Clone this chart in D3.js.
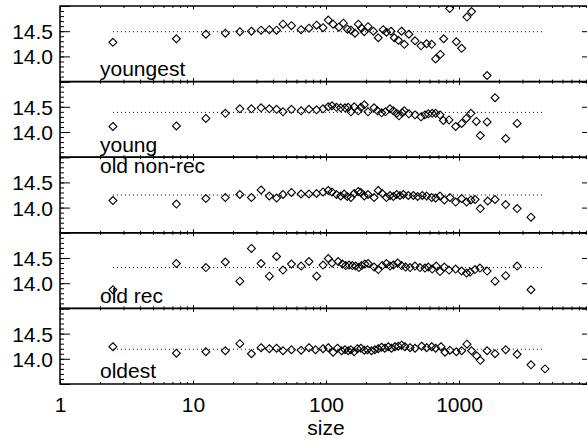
<!DOCTYPE html>
<html>
<head>
<meta charset="utf-8">
<script src="https://cdn.jsdelivr.net/npm/d3@7"></script>
<style>
  body { margin: 0; background: #fff; }
  text { font-family: "Liberation Sans", Arial, Helvetica, sans-serif; font-size: 21px; fill: #000; }
</style>
</head>
<body>
<svg id="chart"></svg>
<script>
// panel names, top to bottom
var panelNames = ["youngest", "young", "old non-rec", "old rec", "oldest"];

// level of the dotted reference line in each panel
var refLevels = [14.49, 14.39, 14.25, 14.31, 14.19];
var refRange = [2.5, 4300];

var yLabels = [14.0, 14.5];
var xLabels = [1, 10, 100, 1000];

// [size, value]
var youngest = [[2.5,14.28],[7.5,14.35],[12.5,14.44],[17.5,14.46],[22.5,14.49],[27.5,14.50],[32.5,14.52],[37.5,14.53],[42.5,14.52],[47.5,14.64],[55,14.61],[65,14.53],[74.5,14.56],[85,14.62],[95,14.57],[104,14.72],[113,14.64],[125,14.58],[135,14.66],[145,14.54],[154,14.52],[165,14.46],[175,14.64],[185,14.56],[194,14.49],[207,14.59],[227,14.50],[247,14.37],[269,14.53],[285,14.48],[308,14.50],[326,14.37],[350,14.32],[370,14.50],[388,14.24],[420,14.44],[467,14.31],[518,14.21],[571,14.25],[623,14.24],[667,13.95],[724,14.04],[767,14.35],[851,14.95],[955,14.29],[1047,14.16],[1148,14.78],[1243,14.89],[1627,13.62]];

var young = [[2.5,14.11],[7.5,14.12],[12.5,14.27],[17.5,14.37],[22.5,14.46],[27.5,14.46],[32.5,14.48],[37.5,14.46],[42.5,14.45],[47.5,14.40],[55,14.45],[65,14.42],[74.5,14.45],[85,14.44],[95,14.46],[104,14.50],[111,14.52],[120,14.49],[129,14.48],[139,14.48],[147,14.49],[154,14.40],[163,14.50],[175,14.42],[183,14.49],[194,14.54],[207,14.40],[230,14.48],[244,14.42],[262,14.38],[280,14.40],[303,14.46],[321,14.42],[340,14.37],[354,14.32],[374,14.38],[388,14.42],[420,14.36],[467,14.34],[518,14.30],[555,14.34],[588,14.36],[629,14.37],[667,14.37],[720,14.34],[763,14.23],[841,14.24],[944,14.11],[1047,14.17],[1135,14.27],[1229,14.37],[1350,14.21],[1446,13.93],[1627,14.20],[1866,14.68],[2244,13.87],[2736,14.17]];

var oldNonRec = [[2.5,14.14],[7.5,14.07],[12.5,14.18],[17.5,14.20],[22.5,14.26],[27.5,14.20],[32.5,14.35],[37.5,14.23],[42.5,14.19],[47.5,14.26],[55,14.30],[65,14.27],[74.5,14.27],[85,14.28],[95,14.31],[104,14.34],[111,14.31],[120,14.26],[129,14.23],[137,14.27],[144.5,14.22],[154,14.20],[163,14.28],[175,14.32],[183,14.30],[194,14.23],[207,14.26],[230,14.20],[247,14.34],[265,14.28],[285,14.20],[303,14.24],[321,14.22],[340,14.26],[360,14.24],[382,14.26],[416,14.24],[454,14.24],[489,14.22],[530,14.24],[571,14.23],[623,14.20],[667,14.19],[720,14.23],[776,14.15],[855,14.20],[944,14.11],[1047,14.18],[1141,14.11],[1229,14.15],[1322,14.16],[1446,13.98],[1645,14.13],[1866,14.16],[2244,14.06],[2736,13.98],[3477,13.81]];

var oldRec = [[2.5,13.87],[7.5,14.39],[12.5,14.31],[17.5,14.42],[22.5,14.04],[27.5,14.69],[32.5,14.39],[37.5,14.14],[42.5,14.53],[47.5,14.26],[55,14.38],[65,14.34],[74.5,14.43],[85,14.14],[95,14.36],[104,14.49],[111,14.40],[123.5,14.43],[133,14.38],[140.6,14.35],[149,14.36],[158,14.35],[167,14.34],[176.7,14.31],[185,14.35],[196,14.38],[207.5,14.39],[230,14.32],[247,14.27],[265,14.35],[285,14.39],[303,14.34],[321,14.36],[346,14.40],[370,14.35],[397,14.32],[428.5,14.31],[467,14.34],[509,14.31],[555,14.30],[588,14.32],[629,14.28],[674,14.34],[720,14.23],[776,14.32],[841,14.26],[944,14.28],[1047,14.24],[1141,14.20],[1213,14.22],[1319,14.27],[1437,14.30],[1627,14.24],[1866,14.04],[2244,14.15],[2736,14.34],[3477,13.87]];

var oldest = [[2.5,14.24],[7.5,14.11],[12.5,14.14],[17.5,14.16],[22.5,14.30],[27.5,14.10],[32.5,14.22],[37.5,14.20],[42.5,14.21],[47.5,14.16],[55,14.18],[65,14.17],[74.5,14.22],[83.4,14.18],[95,14.20],[104,14.22],[113,14.13],[122,14.21],[131,14.16],[139,14.18],[147,14.16],[154,14.18],[163,14.14],[172,14.20],[183,14.21],[194,14.17],[205,14.18],[220,14.16],[233,14.18],[247,14.20],[262,14.23],[277,14.21],[294,14.24],[311,14.21],[330,14.24],[350,14.25],[370,14.27],[392,14.24],[428.5,14.22],[467,14.21],[524,14.25],[571,14.22],[623,14.24],[667,14.21],[732,14.24],[785,14.13],[855,14.17],[955,14.14],[1047,14.16],[1148,14.29],[1243,14.16],[1358,14.06],[1446,13.97],[1627,14.16],[1866,14.10],[2244,14.18],[2736,14.09],[3477,13.88],[4433,13.80]];

var series = [youngest, young, oldNonRec, oldRec, oldest];

var width = 587,
    height = 440,
    plotLeft = 60,
    plotRight = 592,
    plotTop = 6,
    plotBottom = 384,
    ph = (plotBottom - plotTop) / panelNames.length;

var svg = d3.select("#chart")
  .attr("width", width)
  .attr("height", height);

svg.append("rect")
  .attr("width", width)
  .attr("height", height)
  .attr("fill", "#fff");

var x = d3.scaleLog()
  .domain([1, 10000])
  .range([plotLeft, plotRight]);

// minor/major ticks on the log axis
var xMajor = [1, 10, 100, 1000, 10000];
var xMinor = [];
xMajor.slice(0, -1).forEach(function(d) {
  for (var k = 2; k <= 9; k++) xMinor.push(d * k);
});
var yMajor = [13.5, 14.0, 14.5, 15.0];
var yMinor = d3.range(135, 151).map(function(d) { return d / 10; });

var diamond = d3.symbol().type(d3.symbolDiamond2).size(40);

function clean(g) {
  g.select(".domain").remove();
  g.selectAll("line").attr("stroke", "#000").attr("stroke-width", 1);
}

series.forEach(function(data, i) {
  var y0 = plotTop + i * ph;
  var y = d3.scaleLinear()
    .domain([13.5, 15.0])
    .range([y0 + ph, y0]);

  var g = svg.append("g");

  svg.append("clipPath")
    .attr("id", "clip" + i)
    .append("rect")
    .attr("x", plotLeft)
    .attr("y", y0)
    .attr("width", plotRight - plotLeft)
    .attr("height", ph);

  var plot = g.append("g").attr("clip-path", "url(#clip" + i + ")");

  // dotted reference level
  plot.append("line")
    .attr("x1", x(refRange[0]))
    .attr("x2", x(refRange[1]))
    .attr("y1", y(refLevels[i]))
    .attr("y2", y(refLevels[i]))
    .attr("stroke", "#000")
    .attr("stroke-width", 1)
    .attr("stroke-dasharray", "1,3");

  plot.selectAll("path.pt")
    .data(data)
    .enter().append("path")
    .attr("class", "pt")
    .attr("d", diamond)
    .attr("transform", function(d) { return "translate(" + x(d[0]) + "," + y(d[1]) + ")"; })
    .attr("fill", "none")
    .attr("stroke", "#000")
    .attr("stroke-width", 1.1);

  // x ticks, inward on top and bottom of each panel
  g.append("g").attr("transform", "translate(0," + y0 + ")")
    .call(d3.axisBottom(x).tickValues(xMinor).tickSize(2).tickFormat("")).call(clean);
  g.append("g").attr("transform", "translate(0," + y0 + ")")
    .call(d3.axisBottom(x).tickValues(xMajor).tickSize(3.5).tickFormat("")).call(clean);
  g.append("g").attr("transform", "translate(0," + (y0 + ph) + ")")
    .call(d3.axisTop(x).tickValues(xMinor).tickSize(2).tickFormat("")).call(clean);
  g.append("g").attr("transform", "translate(0," + (y0 + ph) + ")")
    .call(d3.axisTop(x).tickValues(xMajor).tickSize(3.5).tickFormat("")).call(clean);

  // y ticks, inward on left and right
  g.append("g").attr("transform", "translate(" + plotLeft + ",0)")
    .call(d3.axisRight(y).tickValues(yMinor).tickSize(4).tickFormat("")).call(clean);
  g.append("g").attr("transform", "translate(" + plotLeft + ",0)")
    .call(d3.axisRight(y).tickValues(yMajor).tickSize(10).tickFormat("")).call(clean);
  g.append("g").attr("transform", "translate(" + plotRight + ",0)")
    .call(d3.axisLeft(y).tickValues(yMinor).tickSize(4).tickFormat("")).call(clean);
  g.append("g").attr("transform", "translate(" + plotRight + ",0)")
    .call(d3.axisLeft(y).tickValues(yMajor).tickSize(10).tickFormat("")).call(clean);

  // y labels
  var yl = g.append("g").attr("transform", "translate(" + plotLeft + ",0)")
    .call(d3.axisLeft(y).tickValues(yLabels).tickSize(0).tickPadding(7).tickFormat(d3.format(".1f")));
  yl.select(".domain").remove();
  yl.selectAll("text").attr("dy", "0.36em");

  // panel name
  g.append("text")
    .attr("x", 100)
    .attr("y", y0 + (panelNames[i] === "old non-rec" ? 16 : 70))
    .text(panelNames[i]);

  // frame
  g.append("rect")
    .attr("x", plotLeft)
    .attr("y", y0)
    .attr("width", plotRight - plotLeft)
    .attr("height", ph)
    .attr("fill", "none")
    .attr("stroke", "#000")
    .attr("stroke-width", 1.5);
});

// x labels under the bottom panel
var xl = svg.append("g")
  .attr("transform", "translate(0," + plotBottom + ")")
  .call(d3.axisBottom(x).tickValues(xLabels).tickSize(0).tickPadding(13).tickFormat(d3.format("d")));
xl.select(".domain").remove();

svg.append("text")
  .attr("x", x(100))
  .attr("y", 435)
  .attr("text-anchor", "middle")
  .text("size");
</script>
</body>
</html>
